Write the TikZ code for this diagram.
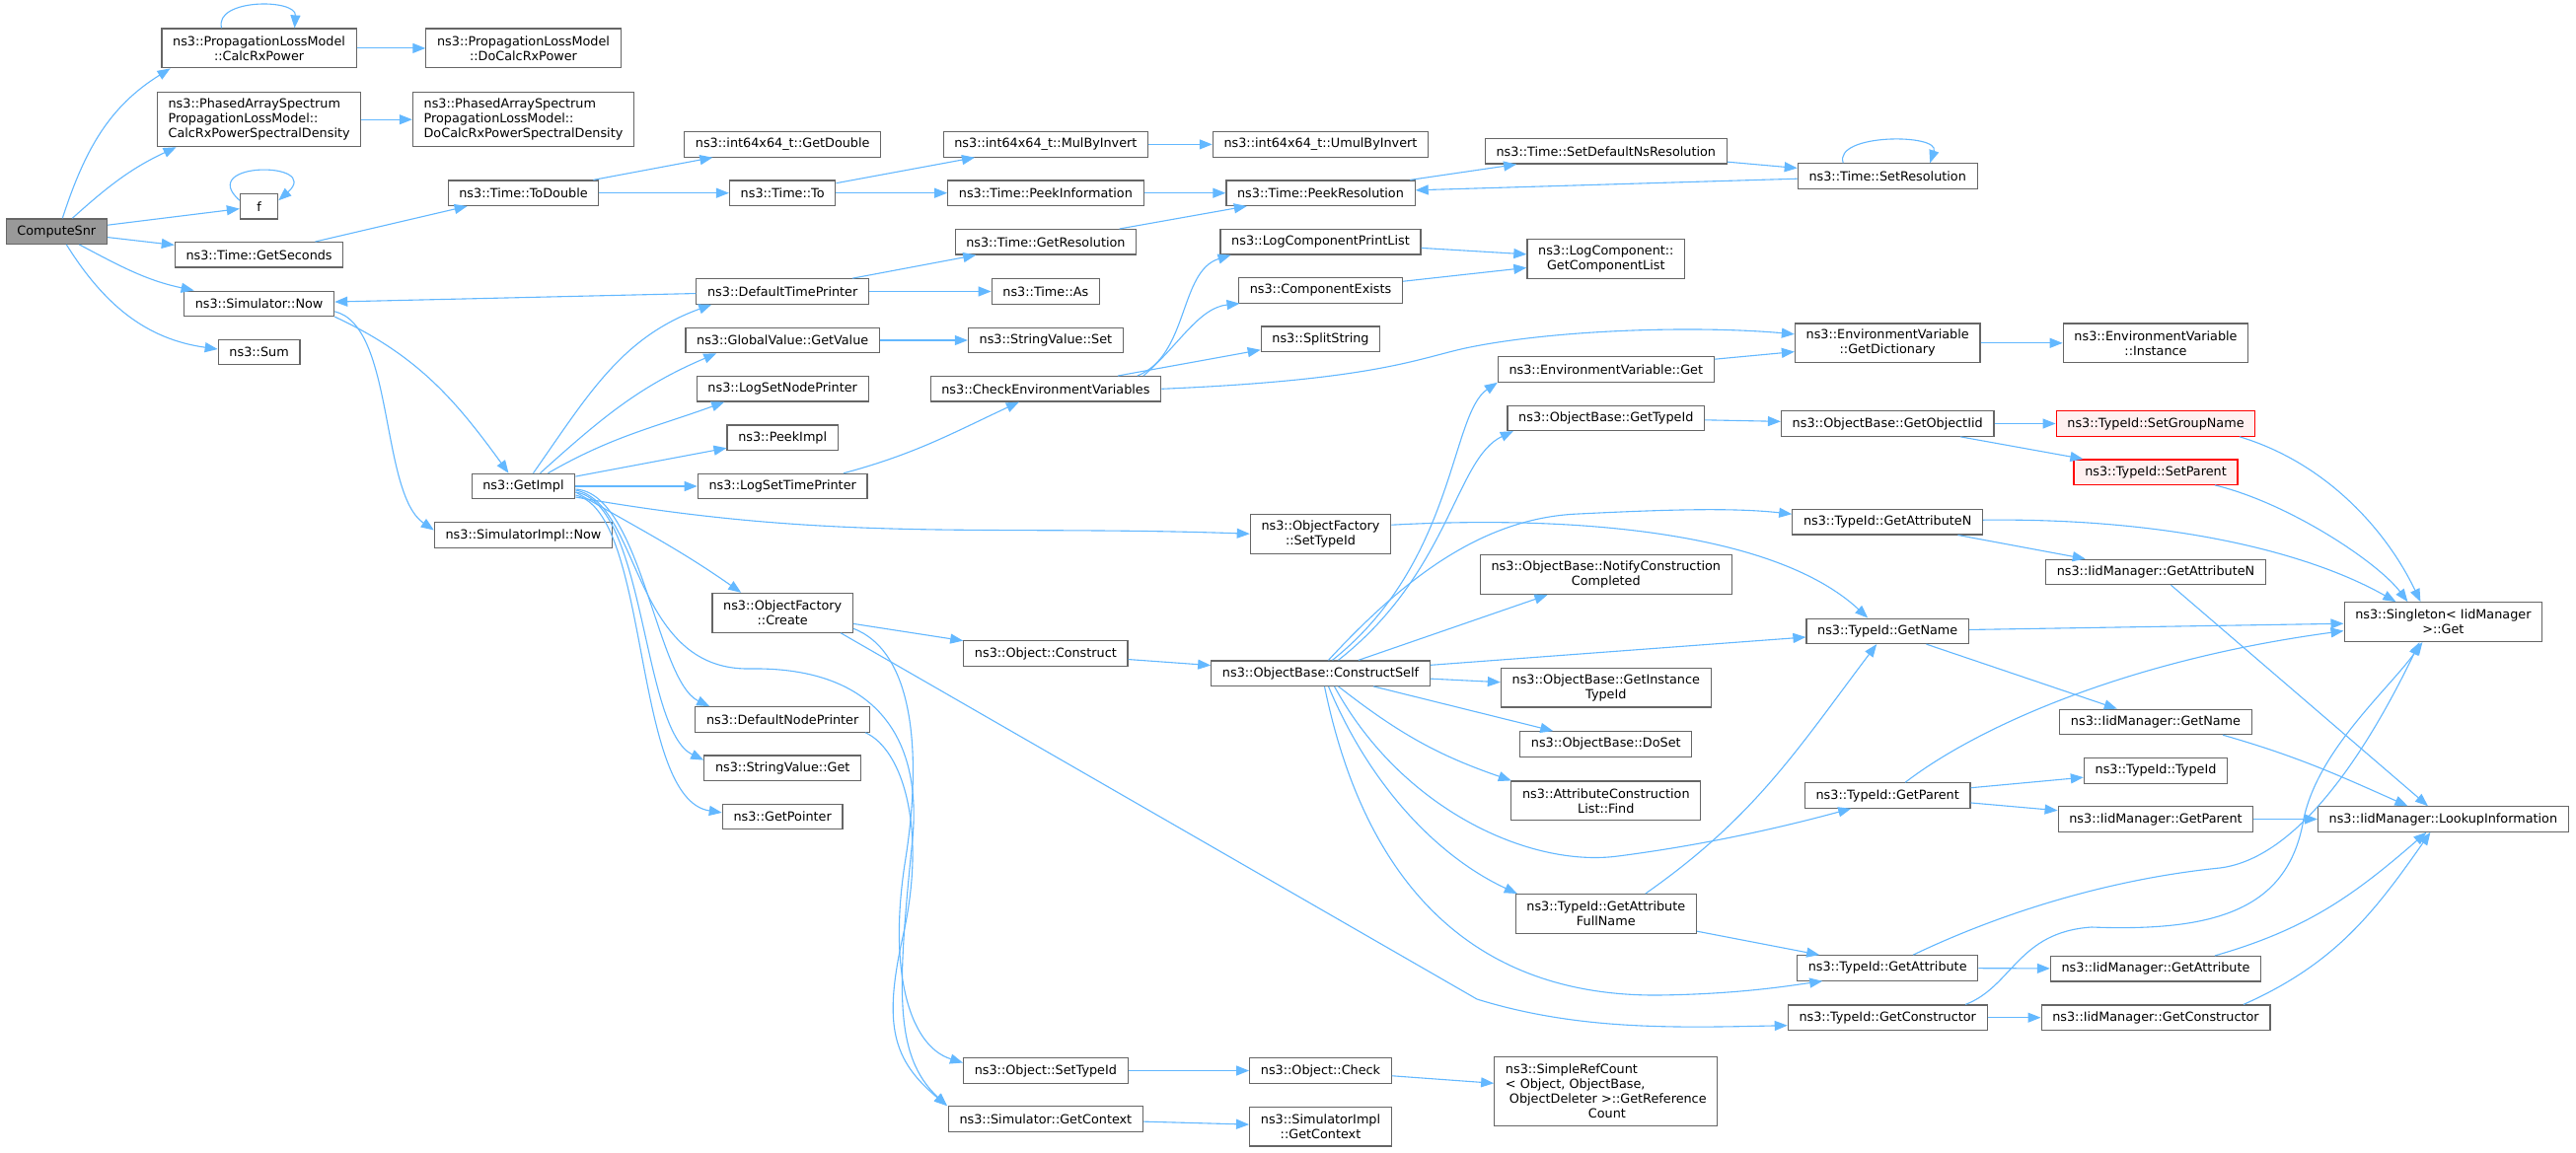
\documentclass[tikz,border=0pt]{standalone}
\usepackage{fontspec}
\setmainfont{DejaVu Sans}
\usetikzlibrary{arrows.meta}
\definecolor{callblue}{HTML}{63B8FF}
\definecolor{boxgray}{HTML}{666666}
\definecolor{rootgray}{HTML}{999999}
\definecolor{stubpink}{HTML}{FFF0F0}
\begin{document}
\begin{tikzpicture}[x=1pt,y=1pt,
fn/.style={draw=boxgray,fill=white,line width=1.2pt,font=\fontsize{12.8}{15}\selectfont,align=center,inner xsep=11.2pt,inner ysep=2pt,minimum height=25.4pt},
two/.style={minimum height=39.8pt},
three/.style={minimum height=54.9pt},
four/.style={minimum height=69.7pt},
root/.style={fn,fill=rootgray},
stub/.style={fn,draw=red,fill=stubpink},
call/.style={draw=callblue,line width=1.1pt,-{Triangle[length=13pt,width=10pt]}}]
\path[use as bounding box,fill=white] (0,0) rectangle (2611,-1168);
\node[root] (cs) at (57.3,-234.6) {ComputeSnr};
\node[fn,two] (calc) at (262.6,-48.9) {ns3::PropagationLossModel\\::CalcRxPower};
\node[fn,two] (docalc) at (530.5,-48.9) {ns3::PropagationLossModel\\::DoCalcRxPower};
\node[fn,three,align=left] (psd) at (262.6,-121.2) {ns3::PhasedArraySpectrum\\PropagationLossModel::\\CalcRxPowerSpectralDensity};
\node[fn,three,align=left] (dopsd) at (530.5,-121.2) {ns3::PhasedArraySpectrum\\PropagationLossModel::\\DoCalcRxPowerSpectralDensity};
\node[fn,minimum width=38.3pt] (f) at (262.6,-209.2) {f};
\node[fn] (todbl) at (530.5,-195.7) {ns3::Time::ToDouble};
\node[fn] (getsec) at (262.6,-258.3) {ns3::Time::GetSeconds};
\node[fn] (simnow) at (262.6,-307.8) {ns3::Simulator::Now};
\node[fn] (sum) at (262.6,-357.0) {ns3::Sum};
\node[fn] (getimpl) at (530.5,-493.0) {ns3::GetImpl};
\node[fn] (implnow) at (530.5,-542.5) {ns3::SimulatorImpl::Now};
\node[fn] (getdbl) at (793.2,-146.4) {ns3::int64x64\_t::GetDouble};
\node[fn] (timeto) at (793.2,-195.7) {ns3::Time::To};
\node[fn] (dtp) at (793.2,-295.5) {ns3::DefaultTimePrinter};
\node[fn] (getval) at (793.2,-345.0) {ns3::GlobalValue::GetValue};
\node[fn] (lsnp) at (793.2,-394.3) {ns3::LogSetNodePrinter};
\node[fn] (peekimpl) at (793.2,-443.6) {ns3::PeekImpl};
\node[fn] (lstp) at (793.2,-493.0) {ns3::LogSetTimePrinter};
\node[fn,two] (create) at (793.2,-621.3) {ns3::ObjectFactory\\::Create};
\node[fn] (dnp) at (793.2,-729.5) {ns3::DefaultNodePrinter};
\node[fn] (svget) at (793.2,-778.6) {ns3::StringValue::Get};
\node[fn] (getptr) at (793.2,-827.9) {ns3::GetPointer};
\node[fn] (mulinv) at (1059.9,-146.4) {ns3::int64x64\_t::MulByInvert};
\node[fn] (peekinfo) at (1059.9,-195.7) {ns3::Time::PeekInformation};
\node[fn] (getres) at (1059.9,-245.3) {ns3::Time::GetResolution};
\node[fn] (timeas) at (1059.9,-295.5) {ns3::Time::As};
\node[fn] (svset) at (1059.9,-345.0) {ns3::StringValue::Set};
\node[fn] (cev) at (1059.9,-394.3) {ns3::CheckEnvironmentVariables};
\node[fn] (construct) at (1059.9,-662.5) {ns3::Object::Construct};
\node[fn] (objsettid) at (1059.9,-1085.5) {ns3::Object::SetTypeId};
\node[fn] (getctx) at (1059.9,-1134.4) {ns3::Simulator::GetContext};
\node[fn] (umulinv) at (1338.5,-146.4) {ns3::int64x64\_t::UmulByInvert};
\node[fn] (peekres) at (1338.5,-195.7) {ns3::Time::PeekResolution};
\node[fn] (lcpl) at (1338.5,-245.3) {ns3::LogComponentPrintList};
\node[fn] (compex) at (1338.5,-294.4) {ns3::ComponentExists};
\node[fn] (splitstr) at (1338.5,-343.7) {ns3::SplitString};
\node[fn,two] (ofsettid) at (1338.5,-541.2) {ns3::ObjectFactory\\::SetTypeId};
\node[fn] (cself) at (1338.5,-682.6) {ns3::ObjectBase::ConstructSelf};
\node[fn] (objcheck) at (1338.5,-1085.5) {ns3::Object::Check};
\node[fn,two] (implctx) at (1338.5,-1142.1) {ns3::SimulatorImpl\\::GetContext};
\node[fn] (setdefres) at (1627.8,-153.3) {ns3::Time::SetDefaultNsResolution};
\node[fn,two] (getcomplist) at (1627.8,-262.6) {ns3::LogComponent::\\GetComponentList};
\node[fn] (envget) at (1627.8,-374.5) {ns3::EnvironmentVariable::Get};
\node[fn] (obgettid) at (1627.8,-423.8) {ns3::ObjectBase::GetTypeId};
\node[fn,two] (notify) at (1627.8,-582.7) {ns3::ObjectBase::NotifyConstruction\\Completed};
\node[fn,two] (getinsttid) at (1627.8,-697.0) {ns3::ObjectBase::GetInstance\\TypeId};
\node[fn] (doset) at (1627.8,-754.4) {ns3::ObjectBase::DoSet};
\node[fn,two] (acfind) at (1627.8,-811.9) {ns3::AttributeConstruction\\List::Find};
\node[fn,two] (gafn) at (1627.8,-926.5) {ns3::TypeId::GetAttribute\\FullName};
\node[fn,four,align=left] (refcount) at (1627.8,-1106.5) {ns3::SimpleRefCount\\< Object, ObjectBase,\\\hspace*{4pt}ObjectDeleter >::GetReference\\\hspace*{84pt}Count};
\node[fn] (setres) at (1913.2,-178.5) {ns3::Time::SetResolution};
\node[fn,two] (getdict) at (1913.2,-347.8) {ns3::EnvironmentVariable\\::GetDictionary};
\node[fn] (getobjiid) at (1913.2,-429.5) {ns3::ObjectBase::GetObjectIid};
\node[fn] (tgetattrn) at (1913.2,-529.2) {ns3::TypeId::GetAttributeN};
\node[fn] (tgetname) at (1913.2,-639.8) {ns3::TypeId::GetName};
\node[fn] (tgetparent) at (1913.2,-806.5) {ns3::TypeId::GetParent};
\node[fn] (tgetattr) at (1913.2,-981.4) {ns3::TypeId::GetAttribute};
\node[fn] (tgetctor) at (1913.2,-1031.7) {ns3::TypeId::GetConstructor};
\node[fn,two] (envinst) at (2185,-347.8) {ns3::EnvironmentVariable\\::Instance};
\node[stub] (setgroup) at (2185,-429.5) {ns3::TypeId::SetGroupName};
\node[stub] (setparent) at (2185,-478.6) {ns3::TypeId::SetParent};
\node[fn] (igetattrn) at (2185,-579.9) {ns3::IidManager::GetAttributeN};
\node[fn] (igetname) at (2185,-731.9) {ns3::IidManager::GetName};
\node[fn] (tidtid) at (2185,-781.4) {ns3::TypeId::TypeId};
\node[fn] (igetparent) at (2185,-830.5) {ns3::IidManager::GetParent};
\node[fn] (igetattr) at (2185,-982.2) {ns3::IidManager::GetAttribute};
\node[fn] (igetctor) at (2185,-1031.7) {ns3::IidManager::GetConstructor};
\node[fn,two] (singleton) at (2476.4,-630.6) {ns3::Singleton< IidManager\\>::Get};
\node[fn] (lookup) at (2476.4,-830.5) {ns3::IidManager::LookupInformation};
\draw[call] (calc) -- (docalc);
\draw[call] ([xshift=-38pt]calc.north) .. controls +(-8,30) and +(2,30) .. ([xshift=36pt]calc.north);
\draw[call] (psd) -- (dopsd);
\draw[call] ([xshift=6pt]cs.north) to[out=72,in=212] ([xshift=-90pt]calc.south);
\draw[call] ([xshift=16pt]cs.north) to[out=42,in=205] ([xshift=-84pt]psd.south);
\draw[call] (cs) -- (f);
\draw[call] ([yshift=6pt]f.west) .. controls +(-45,40) and +(45,40) .. ([yshift=6pt]f.east);
\draw[call] (cs) -- (getsec);
\draw[call] ([xshift=23pt]cs.south) to[out=-28,in=168] ([xshift=-66pt]simnow.north);
\draw[call] ([xshift=10pt]cs.south) to[out=-58,in=172] ([yshift=3pt]sum.west);
\draw[call] (getsec) -- (todbl);
\draw[call] (todbl) -- (getdbl);
\draw[call] (todbl) -- (timeto);
\draw[call] (timeto) -- (mulinv);
\draw[call] (timeto) -- (peekinfo);
\draw[call] (mulinv) -- (umulinv);
\draw[call] (peekinfo) -- (peekres);
\draw[call] (getres) -- (peekres);
\draw[call] (peekres) -- (setdefres);
\draw[call] (setdefres) -- (setres);
\draw[call] (setres) -- (peekres);
\draw[call] ([xshift=-45pt]setres.north) .. controls +(-10,30) and +(10,30) .. ([xshift=43pt]setres.north);
\draw[call] (simnow.south east) to[out=-25,in=126] ([xshift=-15pt]getimpl.north);
\draw[call] ([yshift=-8pt]simnow.east) .. controls (400,-330) and (385,-500) .. ([yshift=5pt]implnow.west);
\draw[call] (dtp) -- (simnow);
\draw[call] (dtp) -- (getres);
\draw[call] (dtp) -- (timeas);
\draw[call] (getval) -- (svset);
\draw[call] ([xshift=10pt]getimpl.north) to[out=55,in=200] ([xshift=-72pt]dtp.south);
\draw[call] ([xshift=17pt]getimpl.north) to[out=42,in=203] ([xshift=-67pt]getval.south);
\draw[call] ([xshift=25pt]getimpl.north) to[out=30,in=200] ([xshift=-59pt]lsnp.south);
\draw[call] (getimpl) -- (peekimpl);
\draw[call] (getimpl) -- (lstp);
\draw[call] ([yshift=-11pt]getimpl.east) to[out=-10,in=178] (ofsettid.west);
\draw[call] ([yshift=-6pt]getimpl.east) to[out=-30,in=145] ([xshift=-42pt]create.north);
\draw[call] ([yshift=-3pt]getimpl.east) .. controls (650,-500) and (665,-690) .. ([xshift=-74pt]dnp.north);
\draw[call] ([yshift=-6pt]getimpl.east) .. controls (655,-510) and (650,-740) .. ([yshift=8pt]svget.west);
\draw[call] ([yshift=-9pt]getimpl.east) .. controls (660,-520) and (640,-810) .. ([yshift=4pt]getptr.west);
\draw[call] ([yshift=-4pt]getimpl.east) .. controls (650,-510) and (640,-680) .. (760,-678) .. controls (880,-676) and (935,-740) .. (925,-850) .. controls (910,-1000) and (905,-1070) .. ([xshift=-100pt]getctx.north);
\draw[call] ([xshift=62pt]lstp.north) to[out=15,in=205] ([xshift=-27pt]cev.south);
\draw[call] ([xshift=93pt]cev.north) .. controls (1205,-360) and (1195,-275) .. ([xshift=-91pt]lcpl.south);
\draw[call] ([xshift=99pt]cev.north) .. controls (1195,-350) and (1215,-312) .. ([xshift=-82pt]compex.south);
\draw[call] (cev) -- (splitstr);
\draw[call] (cev.east) .. controls (1400,-385) and (1440,-362) .. (1490,-352) .. controls (1580,-334) and (1720,-330) .. ([yshift=9pt]getdict.west);
\draw[call] (lcpl) -- (getcomplist);
\draw[call] (compex) -- (getcomplist);
\draw[call] (envget) -- (getdict);
\draw[call] (getdict) -- (envinst);
\draw[call] (create) -- (construct);
\draw[call] ([yshift=-16pt]create.east) .. controls (925,-660) and (935,-760) .. (918,-870) .. controls (900,-980) and (920,-1060) .. ([yshift=8pt]objsettid.west);
\draw[call] ([xshift=59pt]create.south) -- (1497,-1013) .. controls (1600,-1045) and (1700,-1042) .. ([yshift=-8pt]tgetctor.west);
\draw[call] ([xshift=84pt]dnp.south) .. controls (915,-760) and (940,-840) .. (915,-950) .. controls (895,-1040) and (905,-1075) .. ([xshift=-100pt]getctx.north);
\draw[call] (construct) -- (cself);
\draw[call] (objsettid) -- (objcheck);
\draw[call] (objcheck) -- (refcount);
\draw[call] (getctx) -- (implctx);
\draw[call] ([yshift=9pt]ofsettid.east) .. controls (1600,-522) and (1800,-540) .. ([xshift=-20pt]tgetname.north);
\draw[call] ([xshift=12pt]cself.north) .. controls (1475,-570) and (1470,-420) .. ([xshift=-110pt]envget.south);
\draw[call] ([xshift=18pt]cself.north) .. controls (1470,-580) and (1475,-465) .. ([xshift=-94pt]obgettid.south);
\draw[call] ([xshift=8pt]cself.north) .. controls (1420,-590) and (1500,-525) .. (1600,-521) .. controls (1700,-516) and (1760,-515) .. ([yshift=8pt]tgetattrn.west);
\draw[call] (cself) -- (notify);
\draw[call] (cself) -- (tgetname);
\draw[call] (cself) -- (getinsttid);
\draw[call] (cself) -- (doset);
\draw[call] ([xshift=18pt]cself.south) to[out=-38,in=161] ([xshift=-96pt]acfind.north);
\draw[call] ([xshift=14pt]cself.south) .. controls (1420,-820) and (1550,-880) .. (1640,-868) .. controls (1740,-855) and (1820,-835) .. ([xshift=-37pt]tgetparent.south);
\draw[call] ([xshift=8pt]cself.south) .. controls (1390,-800) and (1460,-870) .. ([xshift=-90pt]gafn.north);
\draw[call] ([xshift=4pt]cself.south) .. controls (1380,-880) and (1480,-1010) .. (1680,-1009) .. controls (1760,-1008) and (1810,-1000) .. ([xshift=-66pt]tgetattr.south);
\draw[call] ([xshift=40pt]gafn.north) to[out=35,in=233] ([xshift=-11pt]tgetname.south);
\draw[call] (gafn) -- (tgetattr);
\draw[call] (obgettid) -- (getobjiid);
\draw[call] (getobjiid) -- (setgroup);
\draw[call] (getobjiid) -- (setparent);
\draw[call] ([xshift=85pt]setgroup.south) .. controls (2360,-470) and (2420,-540) .. ([xshift=-23pt]singleton.north);
\draw[call] ([xshift=60pt]setparent.south) .. controls (2320,-510) and (2410,-570) .. ([xshift=-36pt]singleton.north);
\draw[call] ([yshift=2pt]tgetattrn.east) .. controls (2200,-525) and (2340,-560) .. ([xshift=-48pt]singleton.north);
\draw[call] (tgetattrn) -- (igetattrn);
\draw[call] (igetattrn) -- (lookup);
\draw[call] (tgetname) -- (singleton);
\draw[call] (tgetname) -- (igetname);
\draw[call] ([xshift=68pt]igetname.south) to[out=-16,in=156] ([xshift=-36pt]lookup.north);
\draw[call] ([xshift=18pt]tgetparent.north) .. controls (2000,-740) and (2150,-670) .. ([yshift=-9pt]singleton.west);
\draw[call] (tgetparent) -- (tidtid);
\draw[call] (tgetparent) -- (igetparent);
\draw[call] (igetparent) -- (lookup);
\draw[call] ([xshift=26pt]tgetattr.north) .. controls (2040,-920) and (2150,-890) .. (2250,-880) .. controls (2330,-870) and (2400,-760) .. ([xshift=-24pt]singleton.south);
\draw[call] (tgetattr) -- (igetattr);
\draw[call] ([xshift=60pt]igetattr.north) to[out=16,in=221] ([xshift=-17pt]lookup.south);
\draw[call] ([xshift=79pt]tgetctor.north) .. controls (2040,-1000) and (2045,-945) .. (2120,-940) .. controls (2250,-945) and (2320,-920) .. (2335,-830) .. controls (2350,-760) and (2420,-700) .. ([xshift=-21pt]singleton.south);
\draw[call] (tgetctor) -- (igetctor);
\draw[call] ([xshift=89pt]igetctor.north) to[out=24,in=235] ([xshift=-13pt]lookup.south);
\end{tikzpicture}
\end{document}
